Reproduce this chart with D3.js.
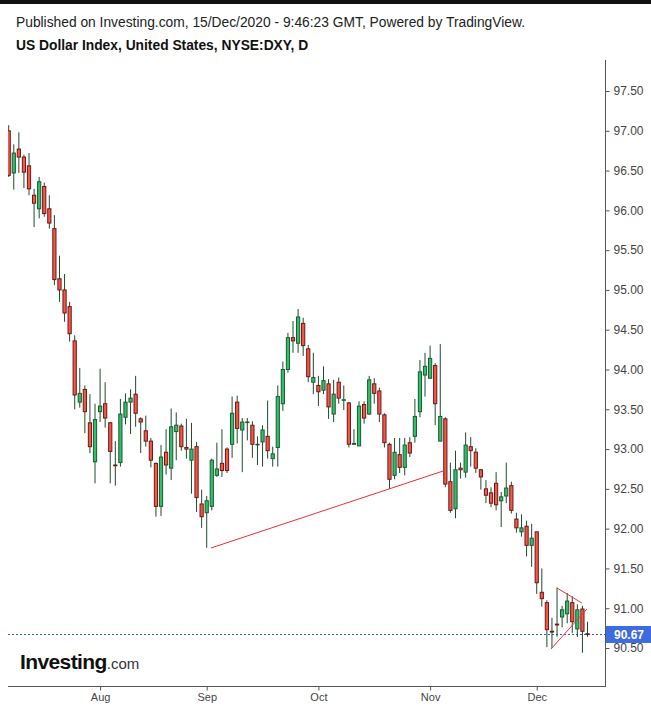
<!DOCTYPE html>
<html>
<head>
<meta charset="utf-8">
<script src="https://cdn.jsdelivr.net/npm/d3@7"></script>
<style>
  html, body { margin: 0; padding: 0; background: #fff; }
  svg { display: block; }
  text { font-family: "Liberation Sans", Arial, sans-serif; }
</style>
</head>
<body>
<div id="chart"></div>
<script>
// ---------- DATA ----------
const firstDay = "2020-07-08";
const lastDay = "2020-12-15";
const opens = [97.00,96.47,96.77,96.67,96.56,96.19,96.02,96.30,96.02,95.77,
  95.14,95.00,94.79,94.36,93.59,93.75,93.33,92.84,93.47,93.57,
  93.33,92.80,92.83,93.40,93.59,93.69,93.38,93.23,93.10,92.82,
  92.28,92.96,92.76,93.22,93.29,93.02,92.86,93.03,92.31,92.20,
  92.28,92.67,92.82,93.00,93.06,93.59,93.24,93.34,93.30,93.06,
  93.09,93.16,92.88,93.02,93.57,94.00,94.40,94.33,94.58,94.26,
  93.84,93.80,93.74,93.82,93.44,93.84,93.62,93.58,93.06,93.04,
  93.56,93.44,93.82,93.73,93.43,93.06,92.67,92.93,92.77,93.08,
  93.16,93.47,93.93,93.89,94.05,93.10,93.38,92.59,92.25,92.76,
  92.71,93.03,92.96,92.74,92.50,92.45,92.57,92.35,92.41,92.54,
  92.12,91.96,92.03,91.79,91.96,91.20,91.07,90.71,90.80,90.89,
  90.93,91.07,90.74,90.99,90.68];
const highs = [97.07,96.83,96.98,96.70,96.72,96.27,96.42,96.35,96.19,95.94,
  95.43,95.20,94.85,94.43,94.02,93.80,93.69,93.57,94.01,93.84,
  93.34,93.10,93.63,93.70,93.75,93.92,93.40,93.42,93.14,92.83,
  93.05,93.25,93.51,93.46,93.32,93.38,93.33,93.09,92.49,92.41,
  92.88,93.08,93.25,93.02,93.66,93.67,93.39,93.39,93.35,93.16,
  93.30,93.61,93.03,93.80,94.10,94.46,94.61,94.76,94.65,94.31,
  94.21,93.92,94.04,93.88,93.87,93.90,93.80,93.59,93.25,93.60,
  93.60,93.92,93.89,93.77,93.45,93.08,93.14,93.14,93.14,93.15,
  93.63,94.12,94.21,94.30,94.08,94.32,93.40,92.83,92.98,92.83,
  93.21,93.15,93.01,92.75,92.61,92.52,92.71,92.46,92.83,92.59,
  92.20,92.18,92.10,92.06,91.96,91.50,91.10,90.88,91.26,91.03,
  91.19,91.15,91.05,91.03,90.83];
const lows = [96.42,96.26,96.47,96.28,96.19,95.79,95.90,95.92,95.77,95.06,
  94.85,94.60,94.35,93.50,93.52,93.20,92.95,92.57,93.34,93.27,
  92.57,92.54,92.78,93.31,93.19,93.28,92.95,93.03,92.77,92.15,
  92.16,92.68,92.61,92.86,92.98,92.88,92.44,92.21,92.01,91.76,
  92.23,92.65,92.65,92.70,92.89,93.07,92.71,93.11,92.89,92.80,
  92.78,92.88,92.78,92.78,93.48,93.96,94.21,94.21,94.17,93.84,
  93.69,93.54,93.69,93.38,93.34,93.57,93.49,93.02,93.05,93.04,
  93.32,93.43,93.57,93.34,93.02,92.50,92.62,92.70,92.67,92.90,
  93.08,93.40,93.66,93.89,93.30,93.10,92.52,92.20,92.13,92.63,
  92.64,92.78,92.70,92.49,92.32,92.27,92.23,92.02,92.32,92.19,
  91.95,91.90,91.65,91.52,91.18,91.02,90.51,90.50,90.64,90.76,
  90.81,90.69,90.64,90.44,90.64];
const closes = [96.44,96.72,96.67,96.48,96.27,96.09,96.36,95.96,95.84,95.13,
  95.00,94.71,94.45,93.68,93.70,93.47,93.03,93.37,93.54,93.39,
  92.97,92.79,93.44,93.59,93.64,93.45,93.34,93.10,92.86,92.28,
  92.90,92.80,93.28,93.30,93.03,93.00,93.00,92.39,92.15,92.35,
  92.86,92.75,92.73,92.73,93.45,93.26,93.34,93.34,93.06,93.06,
  93.24,92.98,92.94,93.66,94.00,94.40,94.36,94.66,94.30,93.91,
  93.90,93.72,93.86,93.53,93.69,93.64,93.62,93.06,93.07,93.54,
  93.39,93.87,93.70,93.44,93.08,92.62,92.96,92.77,93.05,92.95,
  93.41,93.97,94.04,94.14,93.57,93.41,92.56,92.23,92.74,92.74,
  93.05,92.98,92.76,92.65,92.42,92.32,92.30,92.40,92.51,92.23,
  92.01,92.01,91.79,91.88,91.32,91.12,90.73,90.70,90.79,90.98,
  91.09,90.83,90.98,90.71,90.67];
const yTicks = [90.50,91.00,91.50,92.00,92.50,93.00,93.50,94.00,94.50,95.00,95.50,96.00,96.50,97.00,97.50];
const monthLabels = ["Aug","Sep","Oct","Nov","Dec"];
const lastPrice = 90.67;
// drawn trend lines: [barIndex, value] pairs
const trendLine = [[39.85, 91.757],[85.55, 92.724]];
const wedgeLower = [[106.8, 90.487],[113.9, 90.99]];
const wedgeUpper = [[108.0, 91.254],[112.9, 91.065]];

// ---------- BUILD ----------
const W = 651, H = 708;
const dates = d3.utcDay.range(new Date(firstDay), d3.utcDay.offset(new Date(lastDay), 1))
  .filter(d => d.getUTCDay() !== 0 && d.getUTCDay() !== 6);
const bars = dates.map((d, i) => ({date: d, o: opens[i], h: highs[i], l: lows[i], c: closes[i], i}));

const plot = {left: 8, right: 605, top: 60, bottom: 686};

const x = d3.scaleLinear().domain([0, bars.length - 1]).range([8.7, 587.5]);
const y = d3.scaleLinear().domain([90.50, 97.50]).range([648, 91]);

const svg = d3.select("#chart").append("svg").attr("width", W).attr("height", H);

svg.append("rect").attr("x", 0).attr("y", 0).attr("width", W).attr("height", 4).attr("fill", "#111");

svg.append("text").attr("x", 16).attr("y", 27).attr("font-size", 13.8).attr("fill", "#222")
  .text("Published on Investing.com, 15/Dec/2020 - 9:46:23 GMT, Powered by TradingView.");
svg.append("text").attr("x", 16).attr("y", 50).attr("font-size", 13.8).attr("font-weight", "bold").attr("fill", "#111")
  .text("US Dollar Index, United States, NYSE:DXY, D");

svg.append("defs").append("clipPath").attr("id", "clip")
  .append("rect").attr("x", plot.left).attr("y", plot.top)
  .attr("width", plot.right - plot.left).attr("height", plot.bottom - plot.top);

const g = svg.append("g").attr("clip-path", "url(#clip)");

// last price dotted line
g.append("line").attr("x1", plot.left).attr("x2", plot.right)
  .attr("y1", Math.round(y(lastPrice)) + 0.5).attr("y2", Math.round(y(lastPrice)) + 0.5)
  .attr("stroke", "#2f57e0").attr("stroke-width", 1).attr("stroke-dasharray", "2,2");

const wickColor = "#1f4a2c";
const candles = g.selectAll("g.candle").data(bars).join("g").attr("class", "candle");
candles.append("line")
  .attr("x1", d => x(d.i)).attr("x2", d => x(d.i))
  .attr("y1", d => y(d.h)).attr("y2", d => y(d.l))
  .attr("stroke", wickColor).attr("stroke-width", 1);
candles.append("rect")
  .attr("x", d => x(d.i) - 1.6)
  .attr("width", 3.2)
  .attr("y", d => y(Math.max(d.o, d.c)))
  .attr("height", d => Math.max(0.6, Math.abs(y(d.o) - y(d.c))))
  .attr("fill", d => d.c >= d.o ? "#30c06c" : "#f2584c")
  .attr("stroke", d => d.c >= d.o ? "#1c5a30" : "#6e1712")
  .attr("stroke-width", 1);

// red drawn lines
const lineGen = d3.line().x(p => x(p[0])).y(p => y(p[1]));
[trendLine, wedgeLower, wedgeUpper].forEach(pts => {
  g.append("path").attr("d", lineGen(pts)).attr("fill", "none")
    .attr("stroke", "#f23030").attr("stroke-width", 1);
});

// right axis
svg.append("line").attr("x1", plot.right + 0.5).attr("x2", plot.right + 0.5)
  .attr("y1", plot.top).attr("y2", plot.bottom).attr("stroke", "#555");
const yAxis = svg.append("g").attr("transform", `translate(${plot.right + 0.5},0)`)
  .call(d3.axisRight(y).tickValues(yTicks).tickFormat(d3.format(".2f")).tickSize(4).tickPadding(4));
yAxis.select(".domain").remove();
yAxis.selectAll(".tick line").attr("stroke", "#555");
yAxis.selectAll(".tick text").attr("font-size", 12).attr("fill", "#444")
  .attr("font-family", "'Liberation Sans', Arial, sans-serif");

// bottom axis
const monthIdx = [];
bars.forEach((b, i) => {
  if (i > 0 && b.date.getUTCMonth() !== bars[i - 1].date.getUTCMonth()) monthIdx.push(i);
});
const xAxis = svg.append("g").attr("transform", `translate(0,${plot.bottom + 0.5})`)
  .call(d3.axisBottom(x).tickValues(monthIdx).tickFormat((d, k) => monthLabels[k]).tickSize(4).tickPadding(3));
xAxis.select(".domain").remove();
svg.append("line").attr("x1", plot.left).attr("x2", plot.right + 1)
  .attr("y1", plot.bottom + 0.5).attr("y2", plot.bottom + 0.5).attr("stroke", "#555");
xAxis.selectAll(".tick line").attr("stroke", "#555");
xAxis.selectAll(".tick text").attr("font-size", 11).attr("fill", "#444")
  .attr("font-family", "'Liberation Sans', Arial, sans-serif");

// last price tag
const py = y(lastPrice);
svg.append("rect").attr("x", plot.right + 1).attr("y", py - 8.5).attr("width", W - plot.right - 1).attr("height", 17)
  .attr("fill", "#3f6be0");
svg.append("text").attr("x", plot.right + 9).attr("y", py + 4.5).attr("font-size", 12).attr("font-weight", "bold")
  .attr("fill", "#fff").text(d3.format(".2f")(lastPrice));

// logo
const logo = svg.append("text").attr("x", 20).attr("y", 669);
logo.append("tspan").attr("font-size", 21).attr("font-weight", "bold").attr("fill", "#111")
  .attr("letter-spacing", "-0.6").text("Investing");
logo.append("tspan").attr("font-size", 15).attr("fill", "#333").text(".com");
</script>
</body>
</html>
